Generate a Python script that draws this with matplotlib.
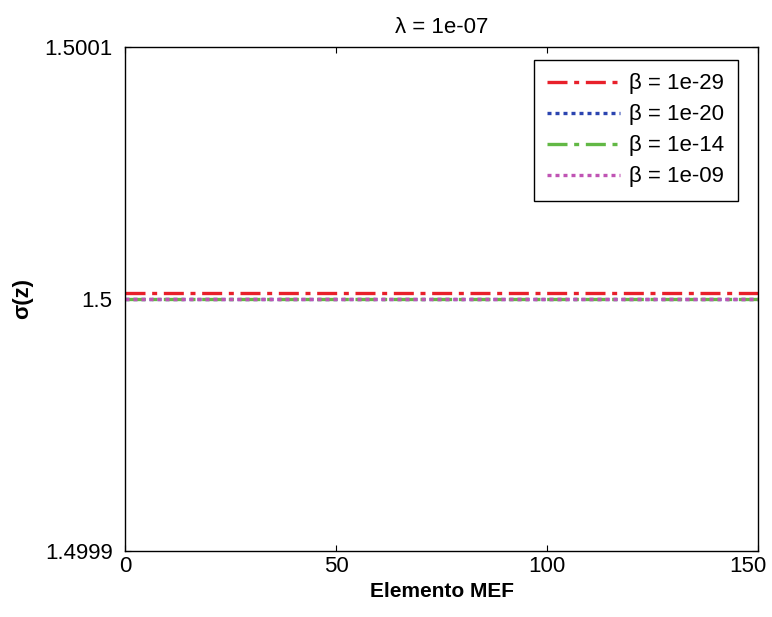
import matplotlib
matplotlib.use("Agg")
import matplotlib.pyplot as plt
import matplotlib.transforms as mtransforms
import numpy as np

plt.rcParams['font.family'] = ['Liberation Sans', 'DejaVu Sans']

# sigma(z) along the FEM elements for each beta
elementos = np.arange(0, 151)
betas = ['1e-29', '1e-20', '1e-14', '1e-09']
sigma_vals = [1.5000023, 1.5000000, 1.4999999, 1.5000000]
colores = ['#e8202a', '#2b44b0', '#62b845', '#c054b4']
estilos = [(0, (6, 2, 1.5, 2)), (0, (1.2, 1.2)), (0, (6, 2, 1.5, 2)), (0, (1.2, 1.2))]

fig = plt.figure(figsize=(7.72, 6.17), dpi=100)
ax = fig.add_axes([0.162, 0.107, 0.820, 0.817])

for b, s, c, ls in zip(betas, sigma_vals, colores, estilos):
    ax.plot(elementos, np.full(elementos.size, s), color=c, linestyle=ls,
            linewidth=2.4, label='\u03b2 = ' + b)

ax.set_xlim(0, 150)
ax.set_ylim(1.4999, 1.5001)
ax.set_xticks([0, 50, 100, 150])
ax.set_yticks([1.4999, 1.5, 1.5001])
ax.set_yticklabels(['1.4999', '1.5', '1.5001'])
ax.tick_params(direction='in', length=4, top=True, right=True, labelsize=16)
ax.tick_params(axis='y', pad=9)
for sp in ax.spines.values():
    sp.set_linewidth(1.0)

# keep the last x label inside the figure
ultimo = ax.get_xticklabels()[-1]
ultimo.set_transform(ultimo.get_transform() +
                     mtransforms.ScaledTranslation(-0.1, 0, fig.dpi_scale_trans))

ax.set_title('\u03bb = 1e-07', fontsize=16, pad=10)
ax.set_xlabel('Elemento MEF', fontsize=15, fontweight='bold', labelpad=4)
ax.set_ylabel('\u03c3(z)', fontsize=16, fontweight='bold')
ax.yaxis.set_label_coords(-0.145, 0.5)

leg = ax.legend(loc='upper right', bbox_to_anchor=(0.968, 0.974),
                borderaxespad=0, fontsize=16, handlelength=3.3,
                fancybox=False, edgecolor='black', framealpha=1,
                labelspacing=0.45, handletextpad=0.4, borderpad=0.6)
leg.get_frame().set_linewidth(1.0)

fig.savefig('out.png', dpi=100)
